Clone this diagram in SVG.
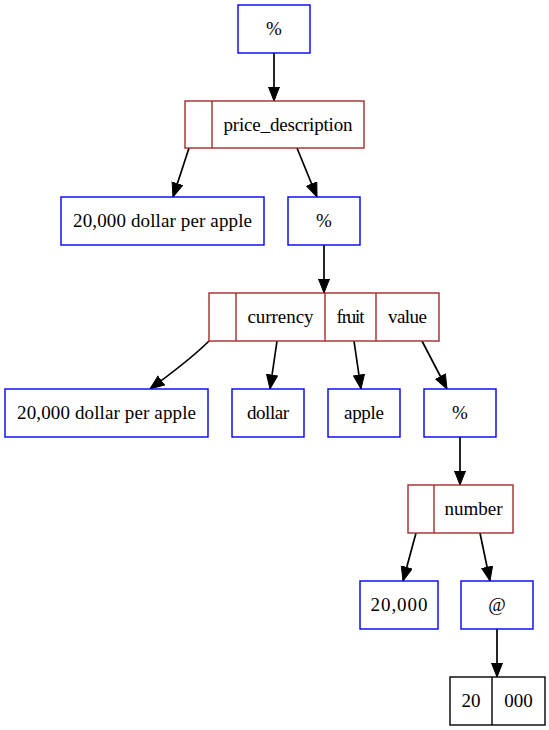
<svg xmlns="http://www.w3.org/2000/svg" width="549" height="730" viewBox="0 0 549 730">
<style>
.b{fill:#fff;stroke:#0000ff;stroke-width:1.4}
.r{fill:#fff;stroke:#a52a2a;stroke-width:1.4}
.k{fill:#fff;stroke:#000;stroke-width:1.4}
.d{stroke:#a52a2a;stroke-width:1.4;fill:none}
.dk{stroke:#000;stroke-width:1.4;fill:none}
text{font-family:"Liberation Serif","Times New Roman",serif;font-size:19px;fill:#000;text-anchor:middle}
.e{stroke:#000;stroke-width:1.7;fill:none;marker-end:url(#ah)}
</style>
<defs>
<marker id="ah" markerUnits="userSpaceOnUse" markerWidth="16" markerHeight="13" refX="14.5" refY="6" orient="auto">
<path d="M0.5,0.5 L14.5,6 L0.5,11.5 z" fill="#000" stroke="#000" stroke-width="1"/>
</marker>
</defs>
<g id="edges">
<path class="e" d="M274,53 L274,101"/>
<path class="e" d="M189,148 L173,197"/>
<path class="e" d="M297,148 L317,197"/>
<path class="e" d="M324,245 L324,293"/>
<path class="e" d="M209,341 C190,360 170,374 150,389"/>
<path class="e" d="M277,341 L270,389"/>
<path class="e" d="M354,341 L361,389"/>
<path class="e" d="M422,341 L447,389"/>
<path class="e" d="M460,437 L460,485"/>
<path class="e" d="M416,533 L403,581"/>
<path class="e" d="M480,533 L490,581"/>
<path class="e" d="M497,629 L497,677"/>
</g>
<g id="n1"><rect class="b" x="238" y="5" width="72" height="48"/><text x="274" y="35">%</text></g>
<g id="n2"><rect class="r" x="185" y="101" width="179" height="47"/><line class="d" x1="212" y1="101" x2="212" y2="148"/><text x="288" y="131" textLength="129" lengthAdjust="spacing">price_description</text></g>
<g id="n3"><rect class="b" x="61" y="197" width="203" height="48"/><text x="162.5" y="227" textLength="179" lengthAdjust="spacing">20,000 dollar per apple</text></g>
<g id="n4"><rect class="b" x="288" y="197" width="72" height="48"/><text x="324" y="227">%</text></g>
<g id="n5"><rect class="r" x="209" y="293" width="230" height="48"/><line class="d" x1="236" y1="293" x2="236" y2="341"/><line class="d" x1="325" y1="293" x2="325" y2="341"/><line class="d" x1="376" y1="293" x2="376" y2="341"/><text x="280.5" y="323" textLength="66" lengthAdjust="spacing">currency</text><text x="350.5" y="323" textLength="28" lengthAdjust="spacing">fruit</text><text x="407.5" y="323" textLength="39" lengthAdjust="spacing">value</text></g>
<g id="n6"><rect class="b" x="5" y="389" width="203" height="48"/><text x="106.5" y="419" textLength="179" lengthAdjust="spacing">20,000 dollar per apple</text></g>
<g id="n7"><rect class="b" x="232" y="389" width="72" height="48"/><text x="268" y="419" textLength="42" lengthAdjust="spacing">dollar</text></g>
<g id="n8"><rect class="b" x="328" y="389" width="72" height="48"/><text x="364" y="419" textLength="40" lengthAdjust="spacing">apple</text></g>
<g id="n9"><rect class="b" x="424" y="389" width="72" height="48"/><text x="460" y="419">%</text></g>
<g id="n10"><rect class="r" x="408" y="485" width="105" height="48"/><line class="d" x1="434" y1="485" x2="434" y2="533"/><text x="473.5" y="515" textLength="58" lengthAdjust="spacing">number</text></g>
<g id="n11"><rect class="b" x="360" y="581" width="78" height="48"/><text x="399" y="611" textLength="57" lengthAdjust="spacing">20,000</text></g>
<g id="n12"><rect class="b" x="461" y="581" width="72" height="48"/><text x="497" y="611">@</text></g>
<g id="n13"><rect class="k" x="450" y="677" width="95" height="48"/><line class="dk" x1="492" y1="677" x2="492" y2="725"/><text x="471" y="707">20</text><text x="518.5" y="707">000</text></g>
</svg>
